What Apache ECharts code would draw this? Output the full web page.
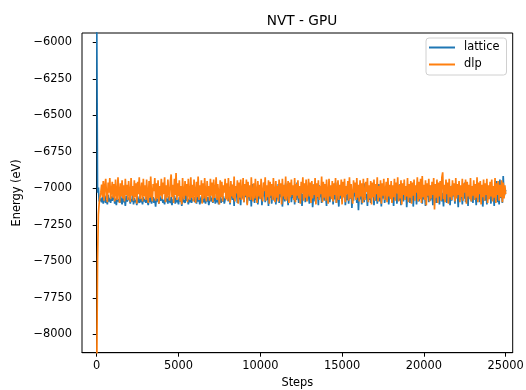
<!DOCTYPE html>
<html>
<head>
<meta charset="utf-8">
<script src="https://cdn.jsdelivr.net/npm/echarts@6/dist/echarts.min.js"></script>
<style>html,body{margin:0;padding:0;background:#fff;overflow:hidden}#c{width:526px;height:390px}</style>
</head>
<body>
<div id="c"></div>
<script>
var steps = [
0,50,100,150,200,250,300,350,400,450,500,550,600,650,700,750,800,850,900,950,
1000,1050,1100,1150,1200,1250,1300,1350,1400,1450,1500,1550,1600,1650,1700,1750,1800,1850,1900,1950,
2000,2050,2100,2150,2200,2250,2300,2350,2400,2450,2500,2550,2600,2650,2700,2750,2800,2850,2900,2950,
3000,3050,3100,3150,3200,3250,3300,3350,3400,3450,3500,3550,3600,3650,3700,3750,3800,3850,3900,3950,
4000,4050,4100,4150,4200,4250,4300,4350,4400,4450,4500,4550,4600,4650,4700,4750,4800,4850,4900,4950,
5000,5050,5100,5150,5200,5250,5300,5350,5400,5450,5500,5550,5600,5650,5700,5750,5800,5850,5900,5950,
6000,6050,6100,6150,6200,6250,6300,6350,6400,6450,6500,6550,6600,6650,6700,6750,6800,6850,6900,6950,
7000,7050,7100,7150,7200,7250,7300,7350,7400,7450,7500,7550,7600,7650,7700,7750,7800,7850,7900,7950,
8000,8050,8100,8150,8200,8250,8300,8350,8400,8450,8500,8550,8600,8650,8700,8750,8800,8850,8900,8950,
9000,9050,9100,9150,9200,9250,9300,9350,9400,9450,9500,9550,9600,9650,9700,9750,9800,9850,9900,9950,
10000,10050,10100,10150,10200,10250,10300,10350,10400,10450,10500,10550,10600,10650,10700,10750,10800,10850,10900,10950,
11000,11050,11100,11150,11200,11250,11300,11350,11400,11450,11500,11550,11600,11650,11700,11750,11800,11850,11900,11950,
12000,12050,12100,12150,12200,12250,12300,12350,12400,12450,12500,12550,12600,12650,12700,12750,12800,12850,12900,12950,
13000,13050,13100,13150,13200,13250,13300,13350,13400,13450,13500,13550,13600,13650,13700,13750,13800,13850,13900,13950,
14000,14050,14100,14150,14200,14250,14300,14350,14400,14450,14500,14550,14600,14650,14700,14750,14800,14850,14900,14950,
15000,15050,15100,15150,15200,15250,15300,15350,15400,15450,15500,15550,15600,15650,15700,15750,15800,15850,15900,15950,
16000,16050,16100,16150,16200,16250,16300,16350,16400,16450,16500,16550,16600,16650,16700,16750,16800,16850,16900,16950,
17000,17050,17100,17150,17200,17250,17300,17350,17400,17450,17500,17550,17600,17650,17700,17750,17800,17850,17900,17950,
18000,18050,18100,18150,18200,18250,18300,18350,18400,18450,18500,18550,18600,18650,18700,18750,18800,18850,18900,18950,
19000,19050,19100,19150,19200,19250,19300,19350,19400,19450,19500,19550,19600,19650,19700,19750,19800,19850,19900,19950,
20000,20050,20100,20150,20200,20250,20300,20350,20400,20450,20500,20550,20600,20650,20700,20750,20800,20850,20900,20950,
21000,21050,21100,21150,21200,21250,21300,21350,21400,21450,21500,21550,21600,21650,21700,21750,21800,21850,21900,21950,
22000,22050,22100,22150,22200,22250,22300,22350,22400,22450,22500,22550,22600,22650,22700,22750,22800,22850,22900,22950,
23000,23050,23100,23150,23200,23250,23300,23350,23400,23450,23500,23550,23600,23650,23700,23750,23800,23850,23900,23950,
24000,24050,24100,24150,24200,24250,24300,24350,24400,24450,24500,24550,24600,24650,24700,24750,24800,24850,24900,24950,
25000];

var lattice = [
-5800,-7030,-6995,-7090,-7100,-7070,-7095,-7060,-7105,-7075,-7050,-7100,-7080,-7110,-7045,-7090,-7065,-7100,-7055,-7085,
-7095,-7040,-7105,-7070,-7115,-7055,-7090,-7075,-7100,-7045,-7085,-7110,-7060,-7095,-7070,-7120,-7050,-7090,-7080,-7100,
-7060,-7105,-7075,-7090,-7040,-7110,-7065,-7095,-7080,-7115,-7055,-7085,-7100,-7050,-7095,-7070,-7110,-7060,-7090,-7075,
-7100,-7055,-7090,-7115,-7065,-7095,-7045,-7105,-7080,-7060,-7100,-7070,-7125,-7055,-7090,-7075,-7105,-7050,-7085,-7095,
-7065,-7100,-7080,-7110,-7045,-7090,-7070,-7105,-7055,-7085,-7100,-7060,-7115,-7075,-7090,-7050,-7105,-7065,-7095,-7080,
-7110,-7060,-7090,-7070,-7120,-7055,-7095,-7080,-7100,-7045,-7085,-7065,-7110,-7075,-7095,-7050,-7100,-7070,-7085,-7060,
-7095,-7075,-7105,-7050,-7090,-7065,-7110,-7080,-7055,-7100,-7070,-7095,-7040,-7105,-7075,-7090,-7060,-7115,-7080,-7050,
-7090,-7065,-7100,-7075,-7045,-7105,-7070,-7095,-7060,-7110,-7080,-7050,-7100,-7070,-7090,-7055,-7105,-7075,-7085,-7060,
-7020,-7090,-6990,-7110,-7040,-6975,-7080,-7010,-7120,-6995,-7060,-7030,-7100,-6965,-7075,-7045,-7115,-7000,-7070,-6985,
-7095,-7025,-7060,-6980,-7105,-7040,-6995,-7085,-7015,-7125,-6970,-7065,-7035,-7100,-7005,-7080,-6990,-7110,-7045,-7020,
-7070,-6985,-7115,-7030,-7055,-6960,-7095,-7010,-7080,-7040,-7120,-6995,-7065,-7025,-7105,-6975,-7050,-7085,-7000,-7110,
-7035,-7075,-6970,-7100,-7020,-7060,-6990,-7125,-7045,-7005,-7090,-6965,-7070,-7030,-7115,-7010,-7055,-6980,-7095,-7040,
-7065,-6995,-7110,-7025,-7080,-6960,-7050,-7100,-7015,-7070,-6985,-7120,-7040,-7060,-6975,-7095,-7030,-7085,-7005,-7045,
-7105,-6990,-7075,-7020,-7130,-7050,-6970,-7090,-7035,-7065,-7000,-7115,-6980,-7060,-7025,-7100,-7045,-6965,-7085,-7010,
-7055,-7120,-7000,-7080,-6975,-7095,-7030,-7065,-6990,-7110,-7040,-7075,-6960,-7100,-7020,-7050,-7125,-6995,-7070,-7035,
-7090,-7010,-7060,-6985,-7115,-7045,-7080,-6970,-7105,-7025,-7070,-7000,-7135,-7040,-7085,-6980,-7055,-7020,-7100,-6995,
-7150,-7030,-7075,-6990,-7110,-7050,-7015,-7095,-6965,-7065,-7040,-7120,-7005,-7080,-6985,-7100,-7035,-7060,-6975,-7115,
-7025,-7085,-7000,-7105,-7045,-6970,-7090,-7030,-7125,-7010,-7070,-6990,-7100,-7050,-7020,-7080,-6960,-7110,-7040,-7065,
-6995,-7095,-7035,-7120,-7015,-7075,-6980,-7105,-7050,-7030,-7085,-6970,-7115,-7045,-7005,-7090,-7025,-7060,-6985,-7130,
-7040,-7070,-6990,-7100,-7020,-7080,-6965,-7125,-7035,-7055,-7000,-7110,-7045,-6975,-7090,-7030,-7065,-6985,-7105,-7015,
-7075,-7040,-7120,-6995,-7060,-7020,-7095,-6980,-7085,-7050,-7010,-7115,-6970,-7070,-7035,-7100,-6990,-7065,-7025,-7110,
-7045,-6985,-7090,-7030,-7125,-7005,-7075,-6965,-7100,-7040,-7060,-6995,-7115,-7020,-7085,-6975,-7055,-7035,-7105,-7010,
-7065,-7025,-7130,-6990,-7080,-7045,-7000,-7110,-7035,-7070,-6960,-7095,-7050,-7015,-7120,-6985,-7060,-7030,-7090,-7005,
-7100,-6980,-7055,-7040,-7115,-7010,-7075,-6970,-7095,-7035,-7065,-6995,-7125,-7045,-7020,-7085,-6975,-7110,-7050,-7030,
-7070,-7000,-7105,-6985,-7060,-7040,-7120,-6990,-7080,-6950,-7095,-7025,-7110,-6940,-7065,-7015,-7100,-6915,-7055,-7035,
-7010];

var dlp = [
-8300,-7500,-7180,-7100,-7060,-7030,-6975,-7060,-6950,-7085,-6985,-6935,-7050,-7095,-6960,-7030,-6930,-7075,-7020,-6955,
-7065,-6970,-7090,-6940,-7035,-7080,-6925,-7025,-7100,-6965,-7055,-6945,-7070,-6980,-7090,-6935,-7045,-6975,-7080,-6950,
-7030,-7095,-6930,-7050,-6985,-7085,-6945,-7060,-6965,-7105,-6955,-7040,-6925,-7075,-7020,-6960,-7090,-6935,-7055,-6980,
-7080,-6940,-7035,-7100,-6950,-7065,-6920,-7045,-7090,-6970,-7020,-6930,-7085,-6965,-7070,-6945,-7105,-6985,-7050,-6935,
-7075,-6960,-7040,-6925,-7095,-6980,-7065,-6940,-7030,-7085,-6955,-6905,-7060,-6975,-7100,-6935,-7045,-6895,-7080,-6965,
-7055,-6945,-7090,-6985,-7110,-6930,-7035,-7075,-6950,-7050,-6970,-7095,-6935,-7040,-7080,-6925,-7065,-6975,-7090,-6940,
-7025,-7100,-6955,-7060,-6920,-7080,-6980,-7045,-6945,-7105,-6965,-7070,-6930,-7035,-7090,-6950,-7055,-6985,-7085,-6935,
-7050,-6960,-7095,-6940,-7065,-7020,-6925,-7080,-6970,-7040,-7110,-6945,-7060,-6955,-7090,-6980,-7030,-6935,-7075,-6965,
-7085,-6930,-7045,-7100,-6950,-7055,-6975,-7070,-6920,-7090,-6985,-7035,-6945,-7105,-6960,-7065,-6940,-7080,-7025,-6930,
-7095,-6970,-7050,-6940,-7115,-6955,-7060,-6980,-7080,-6925,-7040,-7090,-6965,-7070,-6935,-7030,-7100,-6950,-7055,-6975,
-7075,-6935,-7045,-7090,-6960,-7020,-6925,-7085,-6980,-7060,-6945,-7105,-6955,-7050,-6970,-7080,-6930,-7035,-7095,-6950,
-7065,-6985,-7090,-6940,-7040,-6965,-7110,-6935,-7055,-6975,-7075,-6920,-7085,-7025,-6950,-7100,-6960,-7060,-6940,-7045,
-6980,-7080,-6930,-7095,-6970,-7050,-6945,-7070,-6985,-7105,-6955,-7035,-6925,-7085,-6965,-7065,-6940,-7090,-7020,-6935,
-7055,-6960,-7100,-6950,-7070,-6975,-7045,-6930,-7110,-6965,-7060,-6945,-7080,-6985,-7040,-6920,-7095,-6955,-7065,-6970,
-7085,-6940,-7030,-7105,-6935,-7055,-6980,-7075,-6950,-7090,-6965,-7045,-6930,-7100,-7020,-6945,-7080,-6975,-7050,-6940,
-7110,-6955,-7060,-6935,-7095,-6985,-7040,-6950,-7085,-6925,-7070,-6970,-7050,-7105,-6945,-7030,-6960,-7080,-6930,-7065,
-6975,-7090,-6945,-7055,-6965,-7100,-6935,-7045,-7080,-6955,-7025,-6930,-7095,-6980,-7070,-6950,-7110,-6960,-7060,-6940,
-7085,-6970,-7040,-6925,-7090,-6985,-7065,-6945,-7105,-6965,-7050,-6935,-7080,-7020,-6955,-7095,-6930,-7055,-6975,-7075,
-6950,-7100,-6980,-7060,-6935,-7085,-6960,-7035,-6925,-7090,-6975,-7070,-6945,-7110,-6965,-7045,-6940,-7080,-6985,-7055,
-6930,-7095,-6970,-7065,-6950,-7105,-6960,-7050,-6940,-7085,-6980,-7030,-6925,-7090,-6955,-7075,-6935,-7100,-6915,-7060,
-6975,-7080,-6945,-7115,-6965,-7050,-6935,-7090,-6980,-7070,-6955,-7045,-6930,-7145,-6970,-7065,-6940,-7100,-6960,-7055,
-6950,-7085,-6925,-6890,-7075,-6975,-7095,-6940,-7040,-6960,-7105,-6935,-7060,-6985,-7080,-6945,-7050,-6965,-7090,-6930,
-7070,-6970,-7045,-6950,-7095,-6980,-7060,-6935,-7085,-6965,-7030,-6940,-7105,-6955,-7055,-6975,-7075,-6930,-7090,-6985,
-7050,-6945,-7080,-6970,-7065,-6925,-7095,-6960,-7040,-6950,-7110,-6975,-7060,-6940,-7085,-6965,-7045,-6935,-7100,-6980,
-7075,-6955,-7055,-6940,-7090,-6985,-7065,-6930,-7100,-6965,-7045,-6950,-7085,-6975,-7060,-6945,-7095,-6960,-7070,-6980,
-7040];

var xTicks = [0,5000,10000,15000,20000,25000];
var yTicks = [-8000,-7750,-7500,-7250,-7000,-6750,-6500,-6250,-6000];
var seriesNames = ['lattice','dlp'];
var titleText = 'NVT - GPU';
var xName = 'Steps';
var yName = 'Energy (eV)';

var FONT = 'DejaVu Sans';
function fmt(v){ return String(v).replace('-', '\u2212'); }
function pairs(vals){ return steps.map(function(s,i){ return [s, vals[i]]; }); }

var chart = echarts.init(document.getElementById('c'), null, {renderer:'canvas'});
chart.setOption({
  animation: false,
  backgroundColor: '#ffffff',
  title: {
    text: titleText, left: 297, top: 9, textAlign: 'center',
    textStyle: {fontFamily: FONT, fontSize: 13.7, fontWeight: 'normal', color: '#000'}
  },
  legend: {
    orient: 'vertical', left: 426, top: 38,
    padding: [4, 7, 5, 3], itemGap: 6, itemWidth: 26, itemHeight: 2,
    borderColor: '#d0d0d0', borderWidth: 1, borderRadius: 3, backgroundColor: 'rgba(255,255,255,0.8)',
    textStyle: {fontFamily: FONT, fontSize: 11.4, color: '#000', padding: [0,0,0,4]},
    data: [{name: seriesNames[0], icon: 'rect'}, {name: seriesNames[1], icon: 'rect'}]
  },
  grid: {left: 82, top: 33, right: 13.3, bottom: 37.3, show: true, borderColor: '#000', borderWidth: 1,
         backgroundColor: 'transparent', containLabel: false, outerBoundsMode: 'none'},
  xAxis: {
    type: 'value', min: -900, max: 25430,
    name: xName, nameLocation: 'middle', nameGap: 25,
    nameTextStyle: {fontFamily: FONT, fontSize: 11.4, color: '#000'},
    axisLine: {show: true, lineStyle: {color: '#000', width: 1}},
    axisTick: {show: true, length: 4, lineStyle: {color: '#000'}, customValues: xTicks},
    axisLabel: {fontFamily: FONT, fontSize: 11.4, color: '#000', margin: 8, customValues: xTicks, formatter: fmt},
    splitLine: {show: false}
  },
  yAxis: {
    type: 'value', min: -8126, max: -5936,
    name: yName, nameLocation: 'middle', nameGap: 49,
    nameTextStyle: {fontFamily: FONT, fontSize: 11.4, color: '#000'},
    axisLine: {show: true, lineStyle: {color: '#000', width: 1}},
    axisTick: {show: true, length: 4, lineStyle: {color: '#000'}, customValues: yTicks},
    axisLabel: {fontFamily: FONT, fontSize: 11.4, color: '#000', margin: 10, customValues: yTicks, formatter: fmt},
    splitLine: {show: false}
  },
  series: [
    {name: seriesNames[0], type: 'line', data: pairs(lattice), showSymbol: false, clip: true,
     lineStyle: {color: '#1f77b4', width: 1.7}, itemStyle: {color: '#1f77b4'}},
    {name: seriesNames[1], type: 'line', data: pairs(dlp), showSymbol: false, clip: true,
     lineStyle: {color: '#ff7f0e', width: 1.7}, itemStyle: {color: '#ff7f0e'}}
  ]
});
</script>
</body>
</html>
